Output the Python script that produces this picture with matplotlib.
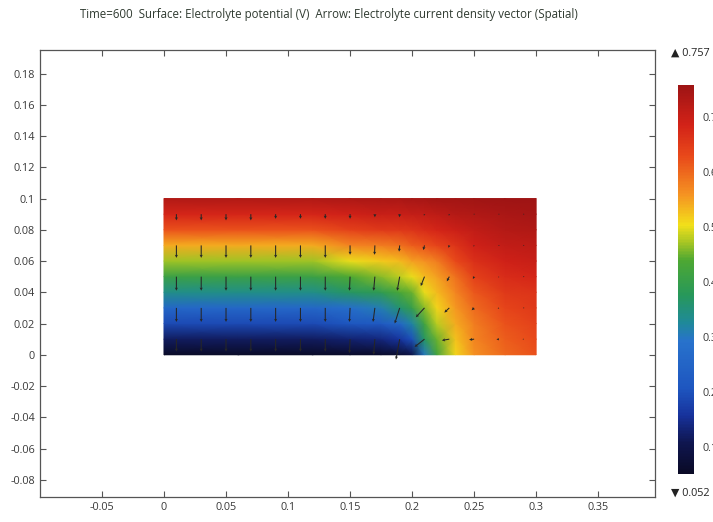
import numpy as np
import matplotlib
matplotlib.use("Agg")
from matplotlib import pyplot as plt
from matplotlib.colors import LinearSegmentedColormap

# surface: electrolyte potential (V) on a coarse grid
grid_x = [0, 0.06, 0.12, 0.15, 0.175, 0.19, 0.2, 0.21, 0.22, 0.235, 0.25, 0.275, 0.3]
grid_y = [0, 0.01, 0.02, 0.03, 0.04, 0.05, 0.06, 0.07, 0.08, 0.09, 0.1]
# one line per grid_x column, bottom to top
potential_cols = [
    [0.055, 0.12, 0.19, 0.26, 0.34, 0.41, 0.47, 0.54, 0.62, 0.68, 0.73],
    [0.055, 0.12, 0.19, 0.26, 0.34, 0.41, 0.47, 0.54, 0.62, 0.68, 0.73],
    [0.056, 0.12, 0.19, 0.26, 0.34, 0.41, 0.47, 0.54, 0.62, 0.68, 0.73],
    [0.06, 0.13, 0.21, 0.28, 0.37, 0.44, 0.50, 0.57, 0.64, 0.69, 0.735],
    [0.06, 0.14, 0.22, 0.31, 0.39, 0.46, 0.52, 0.58, 0.65, 0.70, 0.74],
    [0.07, 0.16, 0.26, 0.36, 0.43, 0.48, 0.53, 0.59, 0.655, 0.70, 0.74],
    [0.10, 0.20, 0.32, 0.40, 0.45, 0.50, 0.55, 0.61, 0.66, 0.705, 0.745],
    [0.30, 0.37, 0.42, 0.46, 0.50, 0.53, 0.56, 0.62, 0.67, 0.71, 0.745],
    [0.42, 0.45, 0.48, 0.51, 0.53, 0.55, 0.58, 0.635, 0.68, 0.715, 0.75],
    [0.51, 0.525, 0.54, 0.555, 0.57, 0.59, 0.63, 0.66, 0.695, 0.725, 0.75],
    [0.56, 0.57, 0.58, 0.595, 0.615, 0.64, 0.665, 0.69, 0.71, 0.73, 0.752],
    [0.60, 0.61, 0.62, 0.635, 0.65, 0.67, 0.69, 0.71, 0.725, 0.74, 0.755],
    [0.62, 0.63, 0.64, 0.65, 0.66, 0.68, 0.70, 0.715, 0.73, 0.745, 0.757],
]

# arrows: electrolyte current density (drawn length in data units)
arrow_x = [0.01, 0.03, 0.05, 0.07, 0.09, 0.11, 0.13, 0.15, 0.17, 0.19, 0.21, 0.23, 0.25, 0.27, 0.29]
arrow_y = [0.01, 0.03, 0.05, 0.07, 0.09]
arrow_u = [
    [0, 0, 0, 0, 0, 0, 0, -0.0005, -0.001, -0.003, -0.008, -0.006, -0.004, -0.002, -0.001],
    [0, 0, 0, 0, 0, 0, 0, -0.0005, -0.0015, -0.004, -0.007, -0.004, -0.002, -0.001, -0.0005],
    [0, 0, 0, 0, 0, 0, 0, -0.0005, -0.001, -0.002, -0.003, -0.002, -0.001, -0.0005, -0.0002],
    [0, 0, 0, 0, 0, 0, 0, 0, -0.0003, -0.0005, -0.001, -0.0008, -0.0005, -0.0002, 0],
    [0, 0, 0, 0, 0, 0, 0, 0, 0, -0.0003, -0.0005, -0.0004, -0.0002, 0, 0],
]
arrow_v = [
    [-0.008, -0.008, -0.008, -0.008, -0.008, -0.008, -0.008, -0.009, -0.01, -0.013, -0.005, -0.0008, -0.0004, -0.0002, 0],
    [-0.009, -0.009, -0.009, -0.009, -0.009, -0.009, -0.009, -0.009, -0.009, -0.01, -0.006, -0.003, -0.0015, -0.0005, -0.0002],
    [-0.009, -0.009, -0.009, -0.009, -0.009, -0.009, -0.009, -0.009, -0.009, -0.009, -0.006, -0.003, -0.0015, -0.0006, -0.0002],
    [-0.008, -0.008, -0.008, -0.008, -0.008, -0.008, -0.008, -0.006, -0.006, -0.004, -0.003, -0.0015, -0.0008, -0.0003, 0],
    [-0.004, -0.004, -0.004, -0.004, -0.003, -0.003, -0.003, -0.003, -0.002, -0.002, -0.001, -0.001, -0.0005, -0.0002, 0],
]

v_min, v_max = 0.052, 0.757
x_ticks = [-0.05, 0, 0.05, 0.1, 0.15, 0.2, 0.25, 0.3, 0.35]
y_ticks = [-0.08, -0.06, -0.04, -0.02, 0, 0.02, 0.04, 0.06, 0.08, 0.1, 0.12, 0.14, 0.16, 0.18]
cbar_ticks = [0.1, 0.2, 0.3, 0.4, 0.5, 0.6, 0.7]

title = ("Time=600  Surface: Electrolyte potential (V)  "
         "Arrow: Electrolyte current density vector (Spatial)")

# comsol-like rainbow
rainbow = LinearSegmentedColormap.from_list("comsol_rainbow", [
    (0.00, "#0a0a26"), (0.08, "#0f1650"), (0.15, "#17329c"), (0.22, "#1e56c0"),
    (0.34, "#2872cc"), (0.39, "#1f8a98"), (0.46, "#27985a"), (0.55, "#4ea832"),
    (0.60, "#aec823"), (0.64, "#f2e01a"), (0.72, "#f59222"), (0.82, "#e8481a"),
    (0.90, "#d22218"), (1.00, "#9e1414"),
])

plt.rcParams['font.family'] = ['Open Sans', 'DejaVu Sans']
text_color = '#3a3a3a'

fig = plt.figure(figsize=(7.13, 5.22), dpi=100)
ax = fig.add_axes([0.056, 0.048, 0.863, 0.856])

X, Y = np.meshgrid(grid_x, grid_y)
Z = np.array(potential_cols).T
mesh = ax.pcolormesh(X, Y, Z, shading='gouraud', cmap=rainbow, vmin=v_min, vmax=v_max)

AX, AY = np.meshgrid(arrow_x, arrow_y)
ax.quiver(AX, AY, np.array(arrow_u), np.array(arrow_v), angles='xy', scale_units='xy', scale=1,
          color='#262626', width=0.0017, headwidth=3, headlength=3, headaxislength=2.6, zorder=3)

ax.set_xlim(-0.1, 0.396)
ax.set_ylim(-0.091, 0.195)
ax.set_xticks(x_ticks)
ax.set_xticklabels([f"{t:g}" for t in x_ticks])
ax.set_yticks(y_ticks)
ax.set_yticklabels([f"{t:g}" for t in y_ticks])
ax.tick_params(direction='in', length=4, width=0.8, labelsize=7.8, colors='#555555',
               labelcolor=text_color, top=True, right=True)
for spine in ax.spines.values():
    spine.set_color('#555555')
    spine.set_linewidth(0.9)

ax.set_title(title, fontsize=8.3, color='#2f3a30', pad=23, x=0.47)

cax = fig.add_axes([0.951, 0.092, 0.022, 0.745])
cbar = fig.colorbar(mesh, cax=cax, ticks=cbar_ticks)
cbar.outline.set_visible(False)
cbar.ax.tick_params(length=0, labelsize=7.8, labelcolor=text_color, pad=6)

fig.text(0.941, 0.898, "\u25b2 0.757", fontsize=7.8, color='#222222', va='center')
fig.text(0.941, 0.055, "\u25bc 0.052", fontsize=7.8, color='#222222', va='center')

plt.savefig('out.png', dpi=100)
